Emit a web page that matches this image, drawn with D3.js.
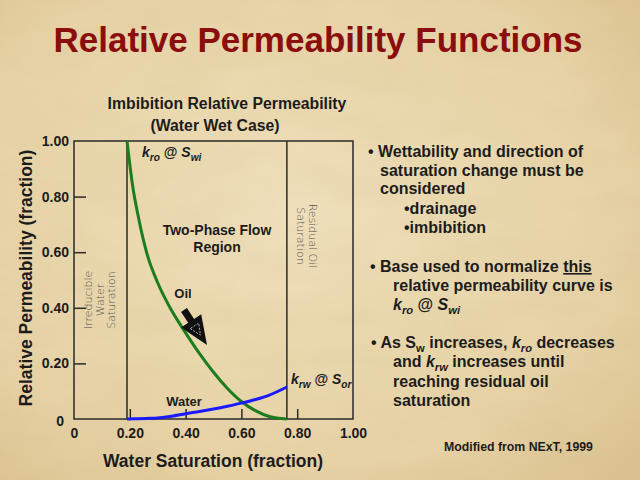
<!DOCTYPE html>
<html><head><meta charset="utf-8">
<script src="https://cdn.jsdelivr.net/npm/d3@7/dist/d3.min.js"></script>
<style>
html,body{margin:0;padding:0;background:#e7d5ac;}
svg{display:block;font-family:"Liberation Sans",Arial,sans-serif;}
</style></head><body>
<svg id="c" width="640" height="480"></svg>
<script>
// ---- data ----
const sw  = [0.19, 0.21, 0.23, 0.26, 0.30, 0.35, 0.40, 0.45, 0.50, 0.55, 0.60, 0.65, 0.70, 0.763];
const kro = [1.00, 0.84, 0.73, 0.60, 0.49, 0.39, 0.31, 0.235, 0.168, 0.11, 0.063, 0.03, 0.009, 0.0];
const krw = [0.00, 0.0005, 0.001, 0.002, 0.004, 0.010, 0.019, 0.027, 0.036, 0.046, 0.057, 0.070, 0.086, 0.115];
const xTickVals = [0, 0.2, 0.4, 0.6, 0.8, 1.0];
const xTickLabels = ["0", "0.20", "0.40", "0.60", "0.80", "1.00"];
const yTickVals = [0, 0.2, 0.4, 0.6, 0.8, 1.0];
const yTickLabels = ["0", "0.20", "0.40", "0.60", "0.80", "1.00"];

const svg = d3.select("#c");
// background parchment
const defs = svg.append("defs");
const rg = defs.append("radialGradient").attr("id","bg").attr("cx","45%").attr("cy","45%").attr("r","75%");
rg.append("stop").attr("offset","0%").attr("stop-color","#efdfba");
rg.append("stop").attr("offset","70%").attr("stop-color","#e6d2a5");
rg.append("stop").attr("offset","100%").attr("stop-color","#dbc290");
const f = defs.append("filter").attr("id","tex").attr("x",0).attr("y",0).attr("width","100%").attr("height","100%");
f.append("feTurbulence").attr("type","fractalNoise").attr("baseFrequency","0.012 0.03").attr("numOctaves",3).attr("seed",4);
f.append("feColorMatrix").attr("type","matrix").attr("values","0 0 0 0 0.55  0 0 0 0 0.42  0 0 0 0 0.22  0 0 0 0.35 -0.12");
svg.append("rect").attr("width",640).attr("height",480).attr("fill","url(#bg)");
svg.append("rect").attr("width",640).attr("height",480).attr("filter","url(#tex)").attr("opacity",0.6);

// title
svg.append("text").attr("x",318).attr("y",52).attr("text-anchor","middle")
  .attr("font-size",35).attr("font-weight","bold").attr("fill","#8a0e0e")
  .text("Relative Permeability Functions");

svg.append("text").attr("x",227).attr("y",109).attr("text-anchor","middle")
  .attr("font-size",15.8).attr("font-weight","bold").attr("fill","#1c1c1c")
  .text("Imbibition Relative Permeability");
svg.append("text").attr("x",215).attr("y",131).attr("text-anchor","middle")
  .attr("font-size",15.8).attr("font-weight","bold").attr("fill","#1c1c1c")
  .text("(Water Wet Case)");

// scales
const x = d3.scaleLinear().domain([0,1]).range([74,353]);
const y = d3.scaleLinear().domain([0,1]).range([419,141]);

// plot frame
svg.append("rect").attr("x",x(0)).attr("y",y(1)).attr("width",x(1)-x(0)).attr("height",y(0)-y(1))
  .attr("fill","none").attr("stroke","#2a2a2a").attr("stroke-width",1.5);

// inward ticks
const gxT = svg.append("g").attr("transform",`translate(0,${y(0)})`)
  .call(d3.axisBottom(x).tickValues(xTickVals.slice(1,-1)).tickSize(-10).tickFormat(""));
gxT.select(".domain").remove();
gxT.selectAll("line").attr("stroke","#2a2a2a").attr("stroke-width",1.5);
const gyT = svg.append("g").attr("transform",`translate(${x(0)},0)`)
  .call(d3.axisLeft(y).tickValues(yTickVals.slice(1,-1)).tickSize(-12).tickFormat(""));
gyT.select(".domain").remove();
gyT.selectAll("line").attr("stroke","#2a2a2a").attr("stroke-width",1.5);

// tick labels
const gx = svg.append("g").attr("transform",`translate(0,${y(0)})`)
  .call(d3.axisBottom(x).tickValues(xTickVals).tickSize(0).tickPadding(9)
  .tickFormat((d,i)=>xTickLabels[i]));
gx.select(".domain").remove();
gx.selectAll("text").attr("font-size",14).attr("font-weight","bold").attr("fill","#1c1c1c")
  .attr("font-family","Liberation Sans, Arial, sans-serif");
const gy = svg.append("g").attr("transform",`translate(${x(0)},0)`)
  .call(d3.axisLeft(y).tickValues(yTickVals).tickSize(0).tickPadding(5)
  .tickFormat((d,i)=>yTickLabels[i]));
gy.select(".domain").remove();
gy.selectAll("text").attr("font-size",14).attr("font-weight","bold").attr("fill","#1c1c1c")
  .attr("font-family","Liberation Sans, Arial, sans-serif");
gy.selectAll(".tick").filter(d=>d===0).select("text").attr("x",-10).attr("dy","0.45em");

// axis titles
svg.append("text").attr("x",213).attr("y",467).attr("text-anchor","middle")
  .attr("font-size",17.5).attr("font-weight","bold").attr("fill","#1c1c1c")
  .text("Water Saturation (fraction)");
svg.append("text").attr("transform","translate(32,278) rotate(-90)").attr("text-anchor","middle")
  .attr("font-size",17.5).attr("font-weight","bold").attr("fill","#1c1c1c")
  .text("Relative Permeability (fraction)");

// vertical saturation lines
[sw[0], sw[sw.length-1]].forEach(v=>{
  svg.append("line").attr("x1",x(v)).attr("x2",x(v)).attr("y1",y(1)).attr("y2",y(0))
    .attr("stroke","#2a2a2a").attr("stroke-width",1.5);
});

// curves
const line = (ys)=>d3.line().x((d,i)=>x(sw[i])).y((d,i)=>y(ys[i])).curve(d3.curveMonotoneX)(sw);
svg.append("path").attr("d",line(kro)).attr("fill","none").attr("stroke","#1b7d1e").attr("stroke-width",3);
svg.append("path").attr("d",line(krw)).attr("fill","none").attr("stroke","#1a1aff").attr("stroke-width",3);

// region texts
svg.append("text").attr("x",217).attr("y",235).attr("text-anchor","middle")
  .attr("font-size",14).attr("font-weight","bold").attr("fill","#1c1c1c").text("Two-Phase Flow");
svg.append("text").attr("x",217).attr("y",252).attr("text-anchor","middle")
  .attr("font-size",14).attr("font-weight","bold").attr("fill","#1c1c1c").text("Region");

const irr = svg.append("text").attr("transform","translate(92,300) rotate(-90)").attr("text-anchor","middle")
  .attr("font-size",11).attr("fill","#555").attr("font-family","DejaVu Sans, sans-serif").attr("font-weight","200");
["Irreducible","Water","Saturation"].forEach((t,i)=>irr.append("tspan").attr("x",0).attr("dy",i?11.5:0).text(t));
const res = svg.append("text").attr("transform","translate(309,236) rotate(90)").attr("text-anchor","middle")
  .attr("font-size",11).attr("fill","#555").attr("font-family","DejaVu Sans, sans-serif").attr("font-weight","200");
["Residual Oil","Saturation"].forEach((t,i)=>res.append("tspan").attr("x",0).attr("dy",i?12:0).text(t));

// k labels with subscripts
function kLabel(g, xx, yy, sub1, sub2, size){
  const t = g.append("text").attr("x",xx).attr("y",yy).attr("font-size",size)
    .attr("font-style","italic").attr("font-weight","bold").attr("fill","#1c1c1c");
  t.append("tspan").text("k");
  t.append("tspan").attr("dy",4).attr("font-size",size*0.72).text(sub1);
  t.append("tspan").attr("dy",-4).attr("font-style","normal").text(" @ ");
  t.append("tspan").text("S");
  t.append("tspan").attr("dy",4).attr("font-size",size*0.72).text(sub2);
  return t;
}
kLabel(svg, 142, 157, "ro", "wi", 14);
kLabel(svg, 291, 384, "rw", "or", 14);

svg.append("text").attr("x",183).attr("y",298).attr("text-anchor","middle")
  .attr("font-size",13).attr("font-weight","bold").attr("fill","#1c1c1c").text("Oil");
svg.append("text").attr("x",184).attr("y",406).attr("text-anchor","middle")
  .attr("font-size",13).attr("font-weight","bold").attr("fill","#1c1c1c").text("Water");

// arrow
(function(){
  const sx=184, sy=310, tx=207, ty=345;
  const dx=tx-sx, dy=ty-sy, L=Math.hypot(dx,dy), ux=dx/L, uy=dy/L, px=-uy, py=ux;
  const bL=13, hw=12, sw2=3.5;
  const bx=sx+ux*bL, by=sy+uy*bL;
  const pts=[[sx+px*sw2,sy+py*sw2],[bx+px*sw2,by+py*sw2],[bx+px*hw,by+py*hw],[tx,ty],
             [bx-px*hw,by-py*hw],[bx-px*sw2,by-py*sw2],[sx-px*sw2,sy-py*sw2]];
  svg.append("path").attr("d",d3.line()(pts)+"Z").attr("fill","#111");
  const cx=bx+ux*9, cy=by+uy*9;
  const tri=[[cx+px*5-ux*3,cy+py*5-uy*3],[cx+ux*8,cy+uy*8],[cx-px*5-ux*3,cy-py*5-uy*3]];
  svg.append("path").attr("d",d3.line()(tri)+"Z").attr("fill","none").attr("stroke","#ddd")
    .attr("stroke-width",0.8).attr("stroke-dasharray","2,1.5");
})();

// right-hand text
const fs=16, col="#1c1c1c";
function tline(xx,yy,parts){
  const t=svg.append("text").attr("x",xx).attr("y",yy).attr("font-size",fs).attr("font-weight","bold").attr("fill",col);
  parts.forEach(p=>{
    if(typeof p==="string"){t.append("tspan").text(p);}
    else{const s=t.append("tspan").text(p.t);
      if(p.sub){s.attr("dy",4).attr("font-size",fs*0.7);}
      if(p.up){s.attr("dy",-4);}
      if(p.it){s.attr("font-style","italic");}
      if(p.u){s.attr("text-decoration","underline");}
    }
  });
  return t;
}
tline(368,157,["\u2022 Wettability and direction of"]);
tline(380,176,["saturation change must be"]);
tline(380,194,["considered"]);
tline(404,214,["\u2022drainage"]);
tline(404,233,["\u2022imbibition"]);
tline(370,272,["\u2022 Base used to normalize ",{t:"this",u:1}]);
tline(393,291,["relative permeability curve is"]);
tline(393,310,[{t:"k",it:1},{t:"ro",it:1,sub:1},{t:" @ ",up:1},{t:"S",it:1},{t:"wi",it:1,sub:1}]);
tline(371,348,["\u2022 As S",{t:"w",sub:1},{t:" increases, ",up:1},{t:"k",it:1},{t:"ro",it:1,sub:1},{t:" decreases",up:1}]);
tline(393,367,["and ",{t:"k",it:1},{t:"rw",it:1,sub:1},{t:" increases until",up:1}]);
tline(393,387,["reaching residual oil"]);
tline(393,406,["saturation"]);

svg.append("text").attr("x",444).attr("y",451).attr("font-size",12.3).attr("font-weight","bold").attr("fill",col)
  .text("Modified from NExT, 1999");
</script>
</body></html>
